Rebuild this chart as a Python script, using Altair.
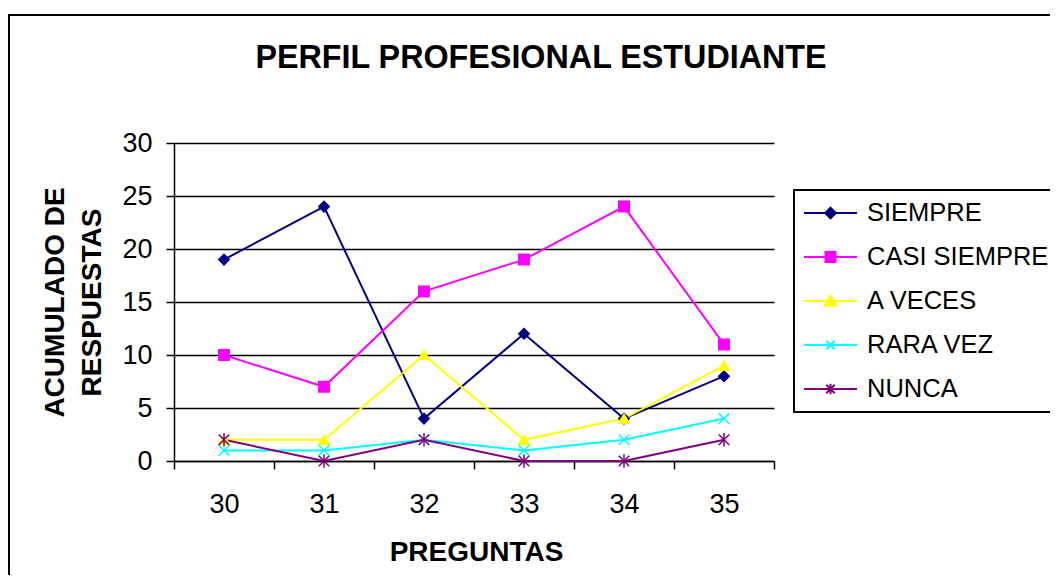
import altair as alt
import pandas as pd

FONT = "Liberation Sans"

preguntas = ["30", "31", "32", "33", "34", "35"]
series_names = ["SIEMPRE", "CASI SIEMPRE", "A VECES", "RARA VEZ", "NUNCA"]
siempre = [19, 24, 4, 12, 4, 8]
casi_siempre = [10, 7, 16, 19, 24, 11]
a_veces = [2, 2, 10, 2, 4, 9]
rara_vez = [1, 1, 2, 1, 2, 4]
nunca = [2, 0, 2, 0, 0, 2]
y_ticks = [0, 5, 10, 15, 20, 25, 30]

colors = ["#000080", "#FF00FF", "#FFFF00", "#00FFFF", "#800080"]
plot_shapes = [
    "diamond",
    "square",
    "triangle-up",
    "M-1,-1L1,1M-1,1L1,-1",
    "M-1,-1L1,1M-1,1L1,-1M0,-1.3L0,1.3",
]
legend_shapes = [
    "M-1,0L1,0M0,-0.2L0.2,0L0,0.2L-0.2,0Z",
    "M-1,0L1,0M-0.19,-0.19L0.19,-0.19L0.19,0.19L-0.19,0.19Z",
    "M-1,0L1,0M0,-0.21L0.22,0.18L-0.22,0.18Z",
    "M-1,0L1,0M-0.16,-0.16L0.16,0.16M-0.16,0.16L0.16,-0.16",
    "M-1,0L1,0M-0.16,-0.16L0.16,0.16M-0.16,0.16L0.16,-0.16M0,-0.2L0,0.2",
]

values = [siempre, casi_siempre, a_veces, rara_vez, nunca]
rows = []
for k, (name, vals) in enumerate(zip(series_names, values)):
    for p, v in zip(preguntas, vals):
        rows.append({"serie": name, "orden": k, "pregunta": p, "valor": v})
df = pd.DataFrame(rows)

x_enc = alt.X(
    "pregunta:O",
    sort=preguntas,
    bandPosition=0.5,
    scale=alt.Scale(type="band", paddingInner=0, paddingOuter=0),
    axis=alt.Axis(
        tickBand="extent",
        grid=False,
        labelAngle=0,
        labelFontSize=27,
        labelBaseline="alphabetic",
        labelPadding=43,
        tickSize=8,
        tickWidth=1.5,
        tickColor="black",
        domainColor="black",
        domainWidth=1.5,
        title="PREGUNTAS",
        titleFontSize=28,
        titleFontWeight="bold",
        titleX=302,
        titleY=99,
        titleAlign="center",
        titleBaseline="alphabetic",
    ),
)
y_enc = alt.Y(
    "valor:Q",
    scale=alt.Scale(domain=[0, 30], nice=False),
    axis=alt.Axis(
        values=y_ticks,
        grid=True,
        gridColor="black",
        gridWidth=1.5,
        domainColor="black",
        domainWidth=1.5,
        tickColor="black",
        tickSize=8,
        tickWidth=1.5,
        labelFontSize=27,
        labelPadding=14,
        title=["ACUMULADO DE", "RESPUESTAS"],
        titleFontSize=28,
        titleFontWeight="bold",
        titleX=-119,
        titleY=159,
        titleAngle=270,
        titleAlign="center",
        titleBaseline="middle",
        titleLineHeight=37,
    ),
)

def sc(rng):
    return alt.Scale(domain=series_names, range=rng)

border = alt.Chart(pd.DataFrame({"b": [0]})).mark_rect(
    filled=False, stroke="black", strokeWidth=2
).encode(
    x=alt.value(-165), x2=alt.value(900), y=alt.value(-128), y2=alt.value(500)
)

lines = alt.Chart(df).mark_line(strokeWidth=2).encode(
    x=x_enc,
    y=y_enc,
    color=alt.Color("serie:N", scale=sc(colors), legend=None),
    order="orden:Q",
)

points = alt.Chart(df).mark_point(filled=True, size=110, strokeWidth=1.5, opacity=1).encode(
    x=x_enc,
    y=y_enc,
    fill=alt.Fill("serie:N", scale=sc(colors), legend=None),
    stroke=alt.Stroke("serie:N", scale=sc(colors), legend=None),
    shape=alt.Shape("serie:N", scale=sc(plot_shapes), legend=None),
)

leg = alt.Legend(
    orient="none",
    legendX=620,
    legendY=47,
    title=None,
    labelFontSize=25.5,
    labelFont=FONT,
    labelColor="black",
    labelOffset=9,
    labelLimit=400,
    symbolSize=2809,
    symbolStrokeWidth=2,
    symbolOpacity=1,
    strokeColor="black",
    fillColor="white",
    padding=9,
    rowPadding=16,
    clipHeight=28,
)

legend_layer = alt.Chart(df).transform_filter("false").mark_point(
    filled=True, size=2809, strokeWidth=2, opacity=1
).encode(
    x=x_enc,
    y=y_enc,
    fill=alt.Fill("serie:N", scale=sc(colors), legend=leg, sort=series_names),
    stroke=alt.Stroke("serie:N", scale=sc(colors), legend=leg, sort=series_names),
    shape=alt.Shape("serie:N", scale=sc(legend_shapes), legend=leg, sort=series_names),
)

chart = (
    alt.layer(border, lines, points, legend_layer)
    .resolve_scale(fill="independent", stroke="independent", shape="independent")
    .properties(
        width=600,
        height=318,
        autosize=alt.AutoSizeParams(type="none"),
        padding={"left": 166, "top": 135, "right": 276, "bottom": 114},
        title=alt.Title(
            "PERFIL PROFESIONAL ESTUDIANTE",
            fontSize=32.3,
            fontWeight="bold",
            font=FONT,
            color="black",
            anchor="middle",
            dx=67,
            dy=86,
            offset=0,
            baseline="alphabetic",
        ),
        background="white",
    )
    .configure_view(strokeWidth=0)
    .configure_legend(strokeWidth=2)
    .configure_axis(labelFont=FONT, titleFont=FONT, labelColor="black", titleColor="black")
)

chart.save("out.html", embed_options={"renderer": "svg", "actions": False})
